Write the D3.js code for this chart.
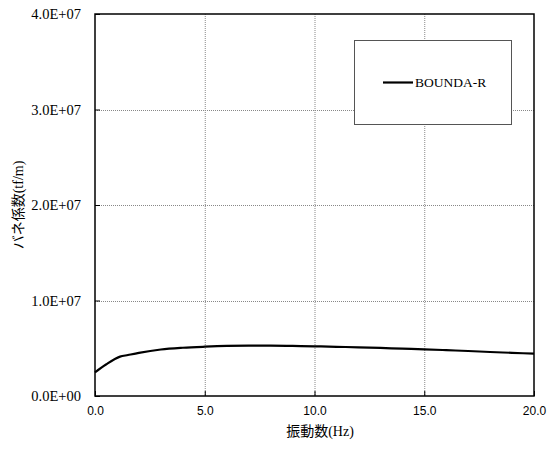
<!DOCTYPE html>
<html>
<head>
<meta charset="utf-8">
<script src="https://cdn.jsdelivr.net/npm/d3@7"></script>
<style>
  body { margin: 0; background: #fff; }
  svg { display: block; }
</style>
</head>
<body>
<svg id="chart" width="547" height="454"></svg>
<script>
// Spring coefficient vs. frequency
const freq = [0, 0.5, 1.14, 1.5, 2, 3, 4, 5, 6, 7, 8, 9, 10, 11, 12, 13, 14, 15, 16, 17, 18, 19, 20];
const stiffness = [2.48e6, 3.30e6, 4.12e6, 4.29e6, 4.52e6, 4.87e6, 5.05e6, 5.16e6, 5.24e6, 5.27e6, 5.27e6,
  5.24e6, 5.20e6, 5.15e6, 5.10e6, 5.03e6, 4.96e6, 4.89e6, 4.80e6, 4.71e6, 4.61e6, 4.52e6, 4.43e6];
const seriesName = "BOUNDA-R";
const xTicks = [0, 5, 10, 15, 20];
const yTicks = [0, 1e7, 2e7, 3e7, 4e7];
const yTickLabels = ["0.0E+00", "1.0E+07", "2.0E+07", "3.0E+07", "4.0E+07"];
const xTitle = "振動数(Hz)";
const yTitle = "バネ係数(tf/m)";

const SERIF = "'Liberation Serif', 'Times New Roman', serif";
const SANS = "'Liberation Sans', Arial, sans-serif";
const MIXED = "'Liberation Serif', 'Noto Sans CJK JP', serif";

const svg = d3.select("#chart");
const m = { left: 95, right: 534, top: 14, bottom: 396 };

const x = d3.scaleLinear().domain([0, 20]).range([m.left, m.right]);
const y = d3.scaleLinear().domain([0, 4e7]).range([m.bottom, m.top]);

// dotted grid
const grid = svg.append("g");
grid.selectAll("line.vx").data(xTicks.slice(1, -1)).join("line")
  .attr("x1", d => x(d) + 0.5).attr("x2", d => x(d) + 0.5)
  .attr("y1", m.top).attr("y2", m.bottom)
  .attr("stroke", "#888").attr("stroke-width", 1).attr("stroke-dasharray", "1,1");
grid.selectAll("line.hy").data(yTicks.slice(1, -1)).join("line")
  .attr("y1", d => Math.round(y(d)) + 0.5).attr("y2", d => Math.round(y(d)) + 0.5)
  .attr("x1", m.left).attr("x2", m.right)
  .attr("stroke", "#888").attr("stroke-width", 1).attr("stroke-dasharray", "1,1");

// axes with inward ticks
const xAxis = d3.axisBottom(x).tickValues(xTicks).tickSizeInner(-5).tickSizeOuter(0)
  .tickPadding(10).tickFormat(d3.format(".1f"));
const gx = svg.append("g").attr("transform", `translate(0,${m.bottom})`).call(xAxis);
gx.select(".domain").remove();
gx.attr("font-family", null).attr("font-size", null);
gx.selectAll("text").style("font-family", SANS).style("font-size", "12px").attr("fill", "#000");
gx.selectAll("line").attr("stroke", "#000");

const yAxis = d3.axisLeft(y).tickValues(yTicks).tickSizeInner(-5).tickSizeOuter(0)
  .tickPadding(14).tickFormat((d, i) => yTickLabels[i]);
const gy = svg.append("g").attr("transform", `translate(${m.left},0)`).call(yAxis);
gy.select(".domain").remove();
gy.attr("font-family", null).attr("font-size", null);
gy.selectAll("text").style("font-family", SERIF).style("font-size", "14.5px").attr("fill", "#000");
gy.selectAll("line").attr("stroke", "#000");

// plot frame
svg.append("rect")
  .attr("x", m.left).attr("y", m.top)
  .attr("width", m.right - m.left).attr("height", m.bottom - m.top)
  .attr("fill", "none").attr("stroke", "#000").attr("stroke-width", 1.5);

// series line
const line = d3.line().x((d, i) => x(freq[i])).y(d => y(d)).curve(d3.curveMonotoneX);
svg.append("path").datum(stiffness)
  .attr("d", line).attr("fill", "none").attr("stroke", "#000").attr("stroke-width", 2.2);

// legend
const lg = svg.append("g");
lg.append("rect").attr("x", 354.5).attr("y", 40.5).attr("width", 157).attr("height", 84)
  .attr("fill", "#fff").attr("stroke", "#555").attr("stroke-width", 1);
lg.append("line").attr("x1", 383).attr("x2", 413).attr("y1", 82.5).attr("y2", 82.5)
  .attr("stroke", "#000").attr("stroke-width", 2.2);
lg.append("text").attr("x", 415).attr("y", 87)
  .style("font-family", SERIF).style("font-size", "13.5px")
  .text(seriesName);

// axis titles
svg.append("text").attr("x", 320).attr("y", 436)
  .attr("text-anchor", "middle")
  .style("font-family", MIXED).style("font-size", "14px")
  .text(xTitle);
svg.append("text").attr("transform", `translate(23,205) rotate(-90)`)
  .attr("text-anchor", "middle")
  .style("font-family", MIXED).style("font-size", "14px")
  .text(yTitle);
</script>
</body>
</html>
